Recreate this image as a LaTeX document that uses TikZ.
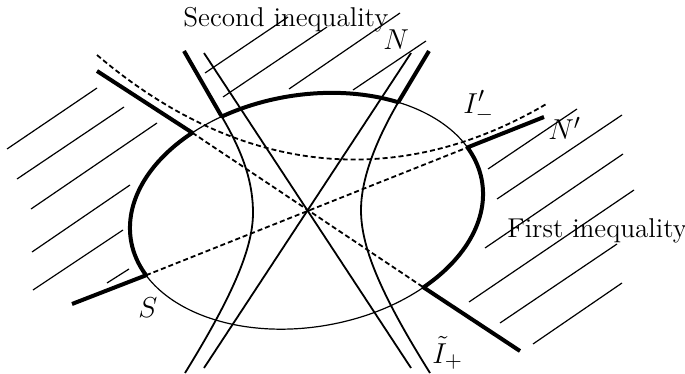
\documentclass[tikz,border=0pt]{standalone}
\usepackage{amsmath,amssymb}
\usepackage{tikz}
\usetikzlibrary{calc}

\begin{document}
\begin{tikzpicture}[
    x=0.5pt, y=-0.5pt,
    hatch/.style={line width=0.6pt},
    rim/.style={line width=0.6pt},
    bold/.style={line width=2pt, line join=round},
    branch/.style={line width=0.9pt},
    guide/.style={line width=0.9pt, dash pattern=on 2.5pt off 1.5pt},
    lbl/.style={inner sep=0pt, anchor=base west, font=\fontsize{15}{18}\selectfont},
    txt/.style={inner sep=0pt, anchor=base west, font=\fontsize{13.6}{16}\selectfont}
]
\useasboundingbox (0,0) rectangle (685,374);

% hatching of the two regions
\foreach \xa/\ya/\xb/\yb in {205/73/288/17, 223/97/327/27, 289/89/400/13, 353/90/426/41,
    7/149/97/88, 17/179/124/107, 31/209/157/123, 32/252/130/185, 33/290/123/230, 107/283/129/269,
    488/169/577/109, 497/199/622/115, 485/248/623/154, 469/302/634/190, 500/323/617/244, 533/344/622/283}
    \draw[hatch] (\xa,\ya) -- (\xb,\yb);

% free ends
\coordinate (ulEnd) at (97,71);
\coordinate (sEnd) at (72,304);
\coordinate (tlEnd) at (184,51);
\coordinate (trEnd) at (429,51);
\coordinate (npEnd) at (544,117);
\coordinate (lrEnd) at (520,351);

% ellipse and its bold arcs
\begin{scope}[shift={(306.5,211)}, rotate=9.6]
\draw[rim] (0,0) ellipse [x radius=178, y radius=116];
\coordinate (eUL) at ({178*cos(124)},{-116*sin(124)});
\coordinate (eS) at ({178*cos(198.4)},{-116*sin(198.4)});
\coordinate (eTL) at ({178*cos(112.4)},{-116*sin(112.4)});
\coordinate (eTR) at ({178*cos(52.4)},{-116*sin(52.4)});
\coordinate (eR) at ({178*cos(18)},{-116*sin(18)});
\coordinate (eLR) at ({178*cos(-54.8)},{-116*sin(-54.8)});
\draw[bold] (ulEnd) -- plot[domain=124:198.4, samples=40] ({178*cos(\x)},{-116*sin(\x)}) -- (sEnd);
\draw[bold] (tlEnd) -- plot[domain=112.4:52.4, samples=40] ({178*cos(\x)},{-116*sin(\x)}) -- (trEnd);
\draw[bold] (npEnd) -- plot[domain=18:-54.8, samples=40] ({178*cos(\x)},{-116*sin(\x)}) -- (lrEnd);
\end{scope}

% dashed lines and the dashed curve
\coordinate (iA) at (97,55);
\coordinate (iB) at (548,103);
\draw[guide] (eUL) -- (eLR);
\draw[guide] (eS) -- (eR);
\draw[guide] (iA) .. controls (250,185) and (410,185) .. (iB);

% crossing lines
\coordinate (xA) at (204,53);
\coordinate (xB) at (411,368);
\coordinate (xC) at (411,53);
\coordinate (xD) at (204,368);
\draw[branch] (xA) -- (xB);
\draw[branch] (xC) -- (xD);

% the two branches
\coordinate (lV) at (253,213);
\coordinate (lEnd) at (185,373);
\coordinate (rV) at (361,210);
\coordinate (rEnd) at (430,373);
\draw[branch] (eTL) .. controls (245,156) and (253,185) .. (lV) .. controls (253,250) and (230,300) .. (lEnd);
\draw[branch] (eTR) .. controls (375,142) and (361,180) .. (rV) .. controls (361,245) and (378,290) .. (rEnd);

% labels
\node[txt] (second) at (183,27) {Second inequality};
\node[txt] (first) at (507,237) {First inequality};
\node[lbl] (lblN) at (383,50) {$N$};
\node[lbl] (lblNp) at (548,140) {$N'$};
\node[lbl] (lblI) at (463,113) {$I'_-$};
\node[lbl] (lblS) at (138,317) {$S$};
\node[lbl] (lblIt) at (432,363) {$\tilde I_+$};
\end{tikzpicture}
\end{document}
